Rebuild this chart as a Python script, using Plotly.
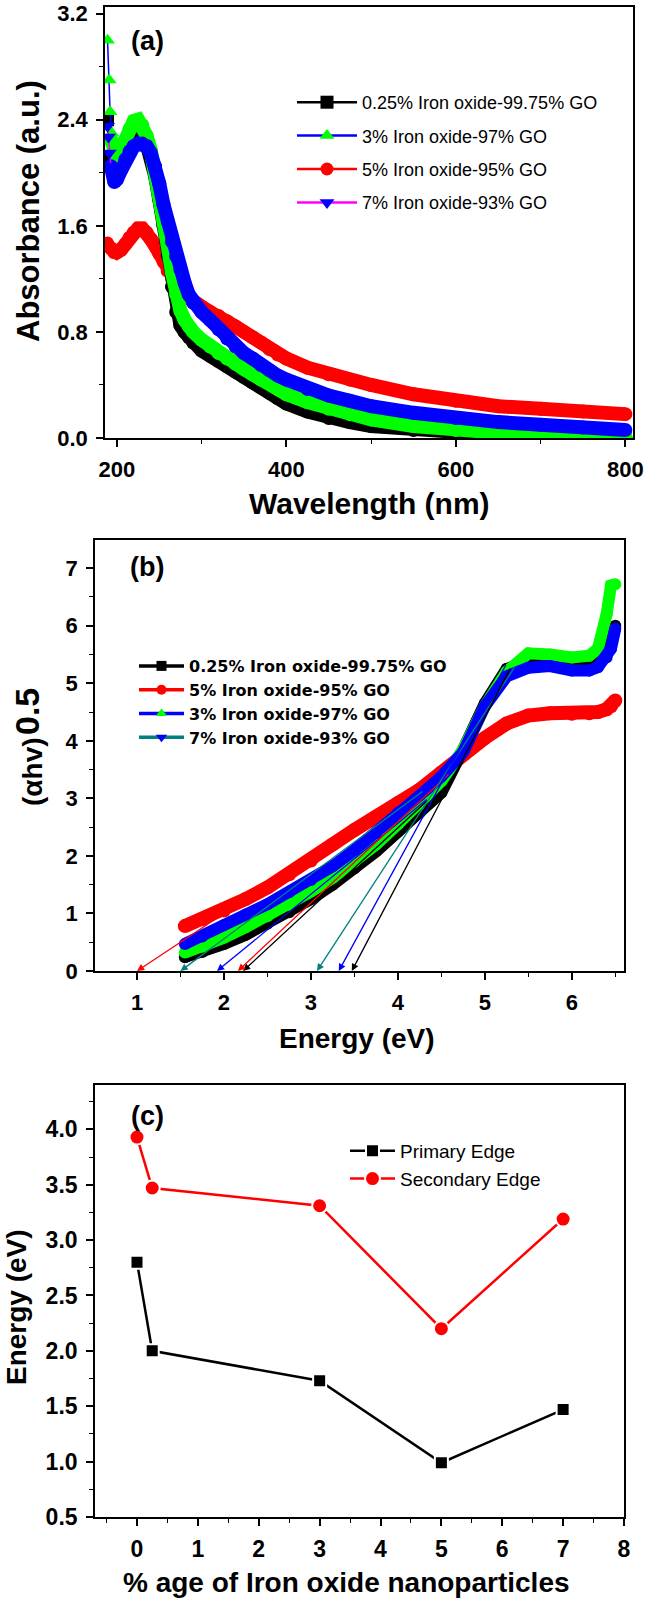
import plotly.graph_objects as go

W, H = 646, 1602
FONT = "Liberation Sans, Arial, sans-serif"
FONT_WIDE = "DejaVu Sans, Verdana, sans-serif"


def px(x):
    return x / W


def py(y):
    return 1 - y / H


# ---------------- Panel (a): UV-Vis absorbance ----------------
a_labels = ["0.25% Iron oxide-99.75% GO", "3% Iron oxide-97% GO",
            "5% Iron oxide-95% GO", "7% Iron oxide-93% GO"]
a_wavelength = [193, 197, 200, 205, 210, 215, 220, 225, 230, 235,
                240, 245, 250, 255, 260, 265, 270, 275, 280, 285,
                290, 300, 310, 320, 330, 340, 350, 360, 370, 380,
                390, 400, 425, 450, 475, 500, 550, 600, 650, 700,
                750, 800]
a_abs_025 = [2.05, 2.00, 2.02, 2.10, 2.18, 2.25, 2.29, 2.30, 2.28, 2.22,
             2.12, 1.98, 1.80, 1.60, 1.38, 1.14, 0.95, 0.85, 0.80, 0.76,
             0.72, 0.66, 0.62, 0.58, 0.54, 0.50, 0.46, 0.42, 0.38, 0.34,
             0.30, 0.26, 0.20, 0.15, 0.12, 0.09, 0.06, 0.04, 0.025, 0.015,
             0.01, 0.005]
a_abs_3 = [2.25, 2.15, 2.12, 2.18, 2.25, 2.33, 2.39, 2.40, 2.36, 2.28,
           2.17, 2.02, 1.85, 1.65, 1.45, 1.25, 1.08, 0.96, 0.89, 0.84,
           0.80, 0.74, 0.69, 0.64, 0.60, 0.56, 0.52, 0.48, 0.44, 0.41,
           0.37, 0.33, 0.27, 0.22, 0.18, 0.14, 0.09, 0.06, 0.04, 0.03,
           0.02, 0.01]
a_abs_5 = [1.43, 1.40, 1.40, 1.42, 1.46, 1.51, 1.55, 1.58, 1.58, 1.55,
           1.50, 1.45, 1.39, 1.33, 1.26, 1.20, 1.15, 1.12, 1.08, 1.05,
           1.03, 0.99, 0.95, 0.92, 0.88, 0.84, 0.80, 0.76, 0.72, 0.67,
           0.63, 0.60, 0.53, 0.48, 0.44, 0.40, 0.33, 0.28, 0.24, 0.22,
           0.20, 0.18]
a_abs_7 = [2.05, 1.93, 1.95, 2.02, 2.10, 2.16, 2.20, 2.22, 2.22, 2.20,
           2.15, 2.05, 1.92, 1.76, 1.63, 1.48, 1.37, 1.27, 1.17, 1.08,
           1.02, 0.95, 0.89, 0.82, 0.75, 0.69, 0.64, 0.60, 0.55, 0.51,
           0.47, 0.44, 0.37, 0.32, 0.28, 0.24, 0.19, 0.15, 0.12, 0.10,
           0.08, 0.06]
# first (short-wavelength) readings, drawn as separate symbols
a_start_wl_025 = [189, 190, 191]
a_start_abs_025 = [2.40, 2.12, 2.08]
a_start_wl_3 = [189, 191, 192, 194, 196]
a_start_abs_3 = [3.00, 2.70, 2.46, 2.30, 2.22]
a_start_wl_5 = [189, 191]
a_start_abs_5 = [1.47, 1.44]
a_start_wl_7 = [189, 190, 191]
a_start_abs_7 = [2.35, 2.27, 2.15]

# ---------------- Panel (b): Tauc plot ----------------
b_labels = ["0.25% Iron oxide-99.75% GO", "5% Iron oxide-95% GO",
            "3% Iron oxide-97% GO", "7% Iron oxide-93% GO"]
b_energy = [1.55, 1.75, 2.0, 2.25, 2.5, 2.75, 3.0, 3.25, 3.5, 3.75,
            4.0, 4.25, 4.5, 4.75, 5.0, 5.25, 5.5, 5.75, 6.0, 6.2,
            6.3, 6.4, 6.45, 6.5]
b_025 = [0.24, 0.33, 0.47, 0.63, 0.82, 1.02, 1.25, 1.50, 1.78, 2.08,
         2.42, 2.75, 3.10, 3.85, 4.65, 5.25, 5.38, 5.35, 5.30, 5.32,
         5.38, 5.55, 5.75, 6.00]
b_5 = [0.78, 0.90, 1.05, 1.25, 1.45, 1.68, 1.92, 2.20, 2.45, 2.68,
       2.92, 3.15, 3.45, 3.78, 4.05, 4.30, 4.44, 4.48, 4.47, 4.48,
       4.50, 4.55, 4.60, 4.70]
b_3 = [0.32, 0.42, 0.58, 0.76, 0.95, 1.15, 1.38, 1.62, 1.90, 2.20,
       2.55, 2.90, 3.30, 3.85, 4.60, 5.20, 5.52, 5.50, 5.45, 5.48,
       5.60, 6.20, 6.70, 6.72]
b_7 = [0.47, 0.60, 0.80, 0.98, 1.16, 1.37, 1.58, 1.82, 2.10, 2.40,
       2.75, 3.05, 3.38, 3.80, 4.60, 5.12, 5.27, 5.30, 5.22, 5.22,
       5.28, 5.45, 5.60, 5.95]
# tangent (band-edge) lines: x-intercept and upper end point
b_tan_colors = ["red", "#008080", "blue", "black",
                "red", "#008080", "blue", "black"]
b_tan_intercept = [1.00, 1.50, 1.92, 2.22, 2.16, 3.07, 3.32, 3.47]
b_tan_end_x = [4.30, 4.30, 4.35, 4.35, 4.60, 5.35, 5.25, 5.30]
b_tan_end_y = [3.30, 3.14, 3.00, 2.98, 3.44, 5.30, 5.34, 5.28]

# ---------------- Panel (c): band gaps ----------------
c_percent = [0, 0.25, 3, 5, 7]
c_primary = [2.80, 2.00, 1.73, 0.99, 1.47]
c_secondary = [3.93, 3.47, 3.31, 2.20, 3.19]

fig = go.Figure()


def band(x, y, color, width, xa, ya):
    return go.Scatter(x=x, y=y, mode="lines+markers",
                      line=dict(color=color, width=width),
                      marker=dict(color=color, size=width, symbol="circle"),
                      xaxis=xa, yaxis=ya, showlegend=False, hoverinfo="skip")


# ---- (a) traces
a_line_colors = ["black", "blue", "red", "magenta"]
a_marker_colors = ["black", "#00FF00", "red", "blue"]
a_symbols = ["square", "triangle-up", "circle", "triangle-down"]
a_series = [a_abs_025, a_abs_3, a_abs_5, a_abs_7]
a_starts = [(a_start_wl_025, a_start_abs_025), (a_start_wl_3, a_start_abs_3),
            (a_start_wl_5, a_start_abs_5), (a_start_wl_7, a_start_abs_7)]
for i in [2, 0, 1, 3]:
    fig.add_trace(band(a_wavelength, a_series[i], a_marker_colors[i], 14, "x", "y"))
    sx, sy = a_starts[i]
    fig.add_trace(go.Scatter(x=sx + [a_wavelength[0]], y=sy + [a_series[i][0]],
                             mode="lines+markers",
                             line=dict(color=a_line_colors[i], width=1.5),
                             marker=dict(symbol=a_symbols[i], color=a_marker_colors[i], size=13),
                             xaxis="x", yaxis="y", showlegend=False, hoverinfo="skip"))
for i in range(4):
    fig.add_trace(go.Scatter(x=[None], y=[None], mode="lines+markers", name=a_labels[i],
                             line=dict(color=a_line_colors[i], width=2.5),
                             marker=dict(symbol=a_symbols[i], color=a_marker_colors[i], size=13),
                             xaxis="x", yaxis="y", legend="legend", legendgroup="a%d" % i))

# ---- (b) traces
b_line_colors = ["black", "red", "blue", "#008080"]
b_marker_colors = ["black", "red", "#00FF00", "blue"]
b_symbols = ["square", "circle", "triangle-up", "triangle-down"]
b_series = [b_025, b_5, b_3, b_7]
for i, w in [(1, 14), (0, 12), (2, 12), (3, 12)]:
    fig.add_trace(band(b_energy, b_series[i], b_marker_colors[i], w, "x2", "y2"))
for i in range(4):
    fig.add_trace(go.Scatter(x=[None], y=[None], mode="lines+markers", name=b_labels[i],
                             line=dict(color=b_line_colors[i], width=3.5),
                             marker=dict(symbol=b_symbols[i], color=b_marker_colors[i], size=10),
                             xaxis="x2", yaxis="y2", legend="legend2", legendgroup="b%d" % i))

# ---- (c) traces
fig.add_trace(go.Scatter(x=c_percent, y=c_primary, mode="lines+markers", name="Primary Edge",
                         line=dict(color="black", width=2.5),
                         marker=dict(symbol="square", color="black", size=13,
                                     line=dict(color="white", width=2)),
                         xaxis="x3", yaxis="y3", legend="legend3", legendgroup="c0"))
fig.add_trace(go.Scatter(x=c_percent, y=c_secondary, mode="lines+markers", name="Secondary Edge",
                         line=dict(color="red", width=2.5),
                         marker=dict(symbol="circle", color="red", size=15,
                                     line=dict(color="white", width=2)),
                         xaxis="x3", yaxis="y3", legend="legend3", legendgroup="c1"))

# ---- axes
def axis(domain, rng, dtick, minor_dtick, size, fmt=None, anchor=None, standoff=4):
    d = dict(domain=domain, range=rng, dtick=dtick, tick0=0, showgrid=False, zeroline=False,
             automargin=False,
             showline=True, linecolor="black", linewidth=1.6, mirror=True,
             ticks="outside", ticklen=7, tickwidth=1.6, tickcolor="black",
             tickfont=dict(family=FONT, size=size, color="black", weight="bold"),
             minor=dict(ticks="outside", ticklen=4, tickwidth=1.3, tickcolor="black",
                        dtick=minor_dtick, tick0=0, showgrid=False),
             ticklabelstandoff=standoff)
    if fmt:
        d["tickformat"] = fmt
    if anchor:
        d["anchor"] = anchor
    return d


fig.update_layout(
    width=W, height=H, autosize=False, margin=dict(l=0, r=0, t=0, b=0, pad=0),
    paper_bgcolor="white", plot_bgcolor="white", showlegend=True,
    xaxis=axis([px(105), px(633)], [186, 809], 200, 100, 22, anchor="y"),
    yaxis=axis([py(438), py(7)], [0, 3.25], 0.8, 0.4, 22, fmt=".1f", anchor="x"),
    xaxis2=axis([px(95), px(624)], [0.517, 6.6], 1, 0.5, 22, anchor="y2"),
    yaxis2=axis([py(971), py(540)], [0, 7.49], 1, 0.5, 22, anchor="x2"),
    xaxis3=axis([px(95), px(624)], [-0.69, 8.0], 1, 0.5, 23, anchor="y3"),
    yaxis3=axis([py(1517), py(1085)], [0.5, 4.4], 0.5, 0.25, 23, fmt=".1f", anchor="x3"),
    legend=dict(x=px(292), y=py(84), xanchor="left", yanchor="top",
                font=dict(family=FONT, size=18, color="black"),
                bgcolor="rgba(0,0,0,0)", traceorder="grouped", tracegroupgap=7,
                itemwidth=60),
    legend2=dict(x=px(134), y=py(649), xanchor="left", yanchor="top",
                 font=dict(family=FONT_WIDE, size=16, color="black", weight="bold"),
                 bgcolor="rgba(0,0,0,0)", traceorder="grouped", tracegroupgap=0,
                 itemwidth=45),
    legend3=dict(x=px(345), y=py(1132), xanchor="left", yanchor="top",
                 font=dict(family=FONT, size=19, color="black"),
                 bgcolor="rgba(0,0,0,0)", traceorder="grouped", tracegroupgap=0,
                 itemwidth=45),
)

ann = []


def text(x, y, s, size, angle=0, bold=True):
    ann.append(dict(x=px(x), y=py(y), xref="paper", yref="paper", text=s, showarrow=False,
                    textangle=angle, xanchor="center", yanchor="middle",
                    font=dict(family=FONT, size=size, color="black",
                              weight="bold" if bold else "normal")))


text(29, 211, "Absorbance (a.u.)", 31, -90)
text(369, 503, "Wavelength (nm)", 30)
text(32, 772, "(αhv)", 28, -90)
text(27, 711, "0.5", 34, -90)
text(357, 1038, "Energy (eV)", 28)
text(16, 1307, "Energy (eV)", 28, -90)
text(346, 1582, "% age of Iron oxide nanoparticles", 28)
text(147, 41, "(a)", 27)
text(147, 567, "(b)", 27)
text(147, 1116, "(c)", 27)

for c, x0, x1, y1 in zip(b_tan_colors, b_tan_intercept, b_tan_end_x, b_tan_end_y):
    ann.append(dict(x=x0, y=0, ax=x1, ay=y1, xref="x2", yref="y2", axref="x2", ayref="y2",
                    text="", showarrow=True, arrowhead=2, arrowsize=1.1, arrowwidth=1.3,
                    arrowcolor=c))

fig.update_layout(annotations=ann)
fig.write_html(
    "out.html",
    config={"responsive": False, "displayModeBar": False},
    post_script=("document.body.style.margin='0';document.body.style.padding='0';"
                 "document.body.style.overflow='hidden';"
                 "var gd=document.getElementById('{plot_id}');"
                 "Plotly.relayout(gd,{width:646,height:1602});"),
)
